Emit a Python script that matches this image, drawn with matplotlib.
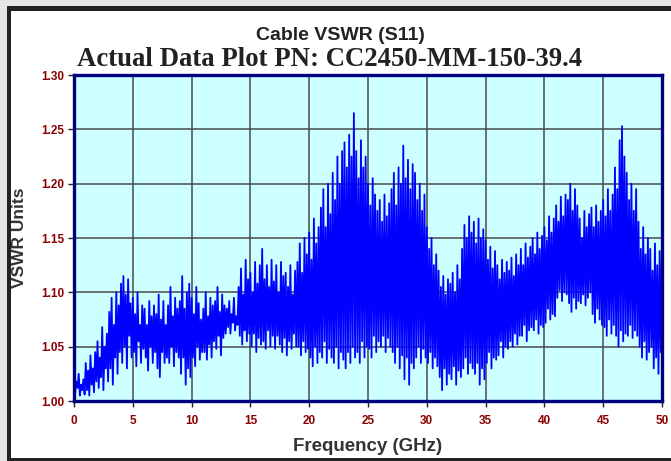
import numpy as np
import matplotlib.pyplot as plt
from matplotlib.patches import Rectangle

# readings every 0.1 GHz, 10 per row (one row per GHz)
freq_start = 0.0
freq_step = 0.1

# VSWR readings
vswr_rows = [
    [1.022, 1.008, 1.018, 1.012, 1.025, 1.005, 1.015, 1.010, 1.020, 1.006],  # 0
    [1.035, 1.010, 1.028, 1.005, 1.042, 1.015, 1.030, 1.008, 1.045, 1.018],  # 1
    [1.055, 1.012, 1.040, 1.022, 1.068, 1.010, 1.050, 1.030, 1.062, 1.018],  # 2
    [1.082, 1.030, 1.095, 1.015, 1.070, 1.040, 1.100, 1.025, 1.088, 1.045],  # 3
    [1.108, 1.035, 1.115, 1.050, 1.098, 1.030, 1.112, 1.060, 1.090, 1.040],  # 4
    [1.095, 1.045, 1.080, 1.032, 1.100, 1.055, 1.070, 1.035, 1.088, 1.048],  # 5
    [1.085, 1.040, 1.070, 1.028, 1.092, 1.050, 1.078, 1.035, 1.088, 1.045],  # 6
    [1.080, 1.030, 1.098, 1.022, 1.075, 1.045, 1.092, 1.035, 1.070, 1.040],  # 7
    [1.088, 1.035, 1.105, 1.050, 1.078, 1.032, 1.095, 1.045, 1.085, 1.040],  # 8
    [1.092, 1.025, 1.115, 1.040, 1.085, 1.015, 1.100, 1.030, 1.108, 1.022],  # 9
    [1.095, 1.040, 1.080, 1.032, 1.105, 1.050, 1.090, 1.038, 1.075, 1.045],  # 10
    [1.085, 1.045, 1.100, 1.038, 1.078, 1.052, 1.095, 1.040, 1.088, 1.055],  # 11
    [1.092, 1.048, 1.105, 1.060, 1.082, 1.042, 1.098, 1.058, 1.088, 1.062],  # 12
    [1.085, 1.068, 1.092, 1.062, 1.080, 1.072, 1.095, 1.065, 1.078, 1.070],  # 13
    [1.105, 1.060, 1.122, 1.052, 1.098, 1.065, 1.130, 1.055, 1.112, 1.062],  # 14
    [1.118, 1.050, 1.100, 1.062, 1.128, 1.045, 1.108, 1.058, 1.125, 1.052],  # 15
    [1.140, 1.055, 1.112, 1.048, 1.125, 1.065, 1.105, 1.050, 1.130, 1.060],  # 16
    [1.110, 1.048, 1.125, 1.060, 1.100, 1.052, 1.128, 1.045, 1.115, 1.058],  # 17
    [1.118, 1.042, 1.105, 1.055, 1.125, 1.048, 1.098, 1.062, 1.120, 1.050],  # 18
    [1.128, 1.050, 1.145, 1.042, 1.118, 1.055, 1.150, 1.045, 1.135, 1.048],  # 19
    [1.155, 1.040, 1.130, 1.032, 1.168, 1.050, 1.145, 1.035, 1.160, 1.045],  # 20
    [1.178, 1.040, 1.195, 1.055, 1.160, 1.035, 1.200, 1.048, 1.172, 1.040],  # 21
    [1.210, 1.035, 1.185, 1.050, 1.225, 1.030, 1.200, 1.045, 1.230, 1.038],  # 22
    [1.238, 1.030, 1.215, 1.045, 1.245, 1.035, 1.225, 1.050, 1.265, 1.040],  # 23
    [1.230, 1.045, 1.205, 1.035, 1.240, 1.055, 1.215, 1.040, 1.225, 1.050],  # 24
    [1.200, 1.048, 1.180, 1.040, 1.205, 1.060, 1.190, 1.045, 1.175, 1.055],  # 25
    [1.185, 1.050, 1.165, 1.060, 1.190, 1.045, 1.170, 1.058, 1.182, 1.050],  # 26
    [1.195, 1.045, 1.210, 1.035, 1.180, 1.050, 1.215, 1.030, 1.200, 1.042],  # 27
    [1.235, 1.020, 1.205, 1.040, 1.222, 1.015, 1.195, 1.035, 1.218, 1.030],  # 28
    [1.210, 1.040, 1.185, 1.050, 1.200, 1.035, 1.175, 1.048, 1.190, 1.040],  # 29
    [1.160, 1.035, 1.140, 1.045, 1.150, 1.030, 1.125, 1.040, 1.135, 1.032],  # 30
    [1.120, 1.022, 1.105, 1.010, 1.115, 1.030, 1.098, 1.015, 1.112, 1.025],  # 31
    [1.108, 1.020, 1.118, 1.032, 1.100, 1.015, 1.125, 1.028, 1.112, 1.022],  # 32
    [1.140, 1.030, 1.162, 1.040, 1.150, 1.025, 1.170, 1.035, 1.155, 1.030],  # 33
    [1.165, 1.025, 1.145, 1.035, 1.168, 1.015, 1.150, 1.030, 1.158, 1.020],  # 34
    [1.148, 1.035, 1.130, 1.045, 1.142, 1.030, 1.122, 1.040, 1.138, 1.038],  # 35
    [1.125, 1.042, 1.112, 1.055, 1.130, 1.040, 1.118, 1.050, 1.128, 1.048],  # 36
    [1.120, 1.055, 1.132, 1.050, 1.115, 1.062, 1.135, 1.052, 1.125, 1.060],  # 37
    [1.140, 1.060, 1.125, 1.070, 1.145, 1.055, 1.132, 1.065, 1.142, 1.068],  # 38
    [1.150, 1.065, 1.135, 1.075, 1.155, 1.062, 1.140, 1.070, 1.152, 1.068],  # 39
    [1.160, 1.072, 1.148, 1.085, 1.170, 1.075, 1.155, 1.080, 1.168, 1.078],  # 40
    [1.180, 1.095, 1.165, 1.102, 1.188, 1.092, 1.170, 1.100, 1.190, 1.098],  # 41
    [1.185, 1.090, 1.200, 1.082, 1.175, 1.095, 1.195, 1.085, 1.180, 1.092],  # 42
    [1.168, 1.090, 1.150, 1.098, 1.175, 1.088, 1.160, 1.095, 1.172, 1.100],  # 43
    [1.178, 1.080, 1.160, 1.072, 1.180, 1.085, 1.165, 1.075, 1.175, 1.070],  # 44
    [1.185, 1.068, 1.170, 1.060, 1.195, 1.075, 1.175, 1.062, 1.190, 1.070],  # 45
    [1.215, 1.060, 1.195, 1.050, 1.240, 1.065, 1.253, 1.055, 1.225, 1.062],  # 46
    [1.210, 1.060, 1.185, 1.070, 1.200, 1.058, 1.175, 1.065, 1.195, 1.060],  # 47
    [1.165, 1.050, 1.140, 1.040, 1.160, 1.055, 1.135, 1.038, 1.150, 1.045],  # 48
    [1.140, 1.050, 1.120, 1.030, 1.145, 1.040, 1.125, 1.025, 1.138, 1.045],  # 49
]
vswr_last = 1.140

x_ticks = [0, 5, 10, 15, 20, 25, 30, 35, 40, 45, 50]
y_ticks = [1.00, 1.05, 1.10, 1.15, 1.20, 1.25, 1.30]

title_top = 'Cable VSWR (S11)'
title_main = 'Actual Data Plot PN: CC2450-MM-150-39.4'

vswr = np.array([v for row in vswr_rows for v in row] + [vswr_last])
freq = freq_start + freq_step * np.arange(len(vswr))

W, H = 671, 461
fig = plt.figure(figsize=(W / 100, H / 100), dpi=100)
fig.patch.set_facecolor('white')

# outer frame: light grey strip then dark border on top/left/bottom
fig.patches.append(Rectangle((0, 0), 1, 1, transform=fig.transFigure,
                             facecolor='#e6e4e6', edgecolor='none', zorder=-3))
fig.patches.append(Rectangle((7 / W, 0), 1, (H - 6) / H, transform=fig.transFigure,
                             facecolor='#222222', edgecolor='none', zorder=-2))
fig.patches.append(Rectangle((11 / W, 3 / H), 1, (H - 14) / H, transform=fig.transFigure,
                             facecolor='white', edgecolor='none', zorder=-1))

ax = fig.add_axes([74 / W, 1 - 401 / H, (662 - 74) / W, (401 - 75) / H])
ax.set_facecolor('#ccffff')
ax.plot(freq, vswr, color='#0000ff', lw=1.3, zorder=3)

ax.set_xlim(0, 50)
ax.set_ylim(1.0, 1.3)
ax.set_xticks(x_ticks)
ax.set_yticks(y_ticks)
ax.set_xticklabels([str(t) for t in x_ticks])
ax.set_yticklabels(['%.2f' % t for t in y_ticks])
ax.grid(True, color='#4a4a4a', lw=1.1, zorder=1)
ax.set_axisbelow(True)

for s in ax.spines.values():
    s.set_color('#000080')
    s.set_linewidth(2.4)
    s.set_zorder(4)

for t in ax.get_xticklabels() + ax.get_yticklabels():
    t.set_fontproperties('Liberation Sans')
    t.set_fontweight('bold')
    t.set_fontsize(8.5)
    t.set_color('#8b0000')
ax.tick_params(axis='both', direction='out', length=4, width=1, color='#222222')
ax.tick_params(axis='x', pad=6)
ax.tick_params(axis='y', pad=3)

ax.set_xlabel('Frequency (GHz)', family='Liberation Sans', weight='bold',
              size=13.5, color='#333333', labelpad=8)
ax.set_ylabel('VSWR Units', family='Liberation Sans', weight='bold',
              size=12.5, color='#333333', labelpad=10)

fig.text(340 / W, 1 - 36 / H, title_top, family='Liberation Sans', weight='bold',
         size=14, color='#222222', ha='center', va='center')
fig.text(330 / W, 1 - 59 / H, title_main, family='Liberation Serif', weight='bold',
         size=19.3, color='#222222', ha='center', va='center')

fig.savefig('out.png', dpi=100)
